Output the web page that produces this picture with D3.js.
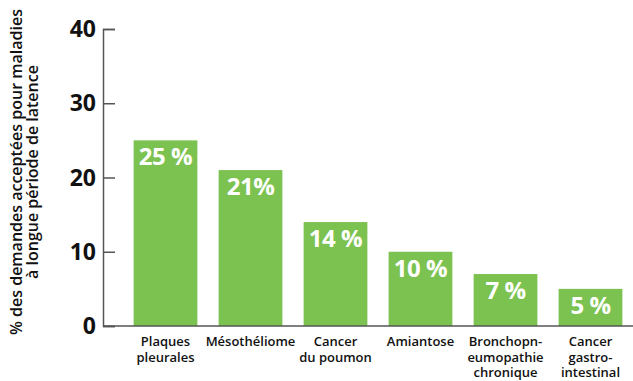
<!DOCTYPE html>
<html>
<head>
<meta charset="utf-8">
<script src="https://cdn.jsdelivr.net/npm/d3@7"></script>
<style>
  body { margin: 0; background: #fff; }
  text { font-family: "Open Sans", "DejaVu Sans", sans-serif; }
</style>
</head>
<body>
<div id="chart"></div>
<script>
// Data
var categories = ["Plaques pleurales", "Mésothéliome", "Cancer du poumon", "Amiantose", "Bronchopneumopathie chronique", "Cancer gastro-intestinal"];
var catLines = [["Plaques", "pleurales"], ["Mésothéliome"], ["Cancer", "du poumon"], ["Amiantose"], ["Bronchopn-", "eumopathie", "chronique"], ["Cancer", "gastro-", "intestinal"]];
var values = [25, 21, 14, 10, 7, 5];
var valueLabels = ["25 %", "21%", "14 %", "10 %", "7 %", "5 %"];
var yTicks = [0, 10, 20, 30, 40];

var width = 633, height = 381;

var svg = d3.select("#chart").append("svg")
    .attr("width", width)
    .attr("height", height);

var x = d3.scaleBand()
    .domain(categories)
    .range([123, 633])
    .paddingInner(0.25)
    .paddingOuter(0.125);

var y = d3.scaleLinear()
    .domain([0, 40])
    .range([326, 29]);

// bars
svg.selectAll(".bar")
    .data(values)
    .enter().append("rect")
    .attr("class", "bar")
    .attr("x", (d, i) => x(categories[i]))
    .attr("y", d => y(d))
    .attr("width", x.bandwidth())
    .attr("height", d => y(0) - y(d))
    .style("fill", "#7cc250");

// values inside bars
svg.selectAll(".val")
    .data(values)
    .enter().append("text")
    .attr("class", "val")
    .attr("x", (d, i) => x(categories[i]) + x.bandwidth() / 2)
    .attr("y", d => y(d) + 25)
    .attr("text-anchor", "middle")
    .style("fill", "#fff")
    .style("font-weight", "bold")
    .style("font-size", "24px")
    .style("letter-spacing", "-0.5px")
    .text((d, i) => valueLabels[i]);

// y axis
var yAxis = d3.axisRight(y)
    .tickValues(yTicks)
    .tickSize(12)
    .tickFormat("");

var gy = svg.append("g")
    .attr("transform", "translate(103,0)")
    .call(yAxis);
gy.select(".domain").attr("stroke", "#555").attr("stroke-width", 1.5);
gy.selectAll(".tick line").attr("stroke", "#555").attr("stroke-width", 1.5);

svg.selectAll(".ytl")
    .data(yTicks)
    .enter().append("text")
    .attr("class", "ytl")
    .attr("x", 96)
    .attr("y", d => y(d) + 8)
    .attr("text-anchor", "end")
    .style("font-weight", "bold")
    .style("font-size", "23px")
    .style("fill", "#111")
    .text(d => d);

// baseline
svg.append("line")
    .attr("x1", 103).attr("x2", width)
    .attr("y1", y(0)).attr("y2", y(0))
    .attr("stroke", "#555")
    .attr("stroke-width", 1.5);

// category labels
var cat = svg.selectAll(".cat")
    .data(categories)
    .enter().append("text")
    .attr("class", "cat")
    .attr("x", d => x(d) + x.bandwidth() / 2)
    .attr("y", 346)
    .attr("text-anchor", "middle")
    .style("font-weight", "600")
    .style("font-size", "13px")
    .style("fill", "#111");

cat.each(function (d, i) {
    var t = d3.select(this);
    catLines[i].forEach(function (line, j) {
        t.append("tspan")
            .attr("x", x(d) + x.bandwidth() / 2)
            .attr("dy", j === 0 ? 0 : 15.5)
            .text(line);
    });
});

// y title
var title = svg.append("text")
    .attr("transform", "translate(22,172) rotate(-90)")
    .attr("text-anchor", "middle")
    .style("font-weight", "600")
    .style("font-size", "16px")
    .style("fill", "#111");
title.append("tspan").attr("x", 0).attr("dy", 0).text("% des demandes acceptées pour maladies");
title.append("tspan").attr("x", 0).attr("dy", 16).text("à longue période de latence");
</script>
</body>
</html>
